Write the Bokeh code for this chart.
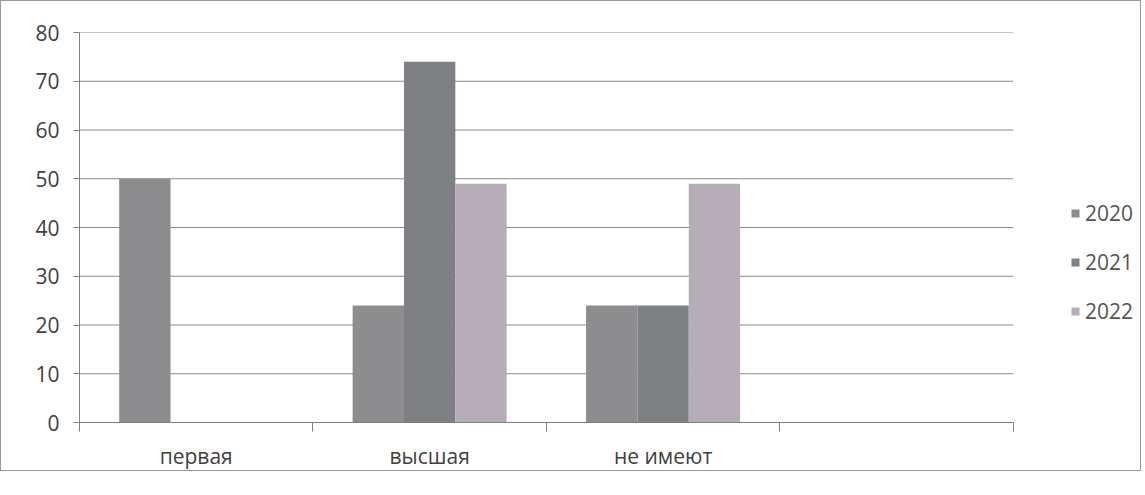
from bokeh.plotting import figure
from bokeh.models import Range1d, FixedTicker, Legend, LegendItem, ColumnDataSource
from bokeh.embed import file_html
from bokeh.resources import INLINE

categories = ["первая", "высшая", "не имеют", ""]
years = ["2020", "2021", "2022"]
v2020 = [50, 24, 24, 0]
v2021 = [0, 74, 24, 0]
v2022 = [0, 49, 49, 0]
y_ticks = [0, 10, 20, 30, 40, 50, 60, 70, 80]

series = [v2020, v2021, v2022]
colors = ["#8d8d90", "#7f8084", "#b6adb9"]
offsets = [-0.22, 0.0, 0.22]
bar_w = 0.22
n_cat = len(categories)

FONT = "Open Sans"
FS = "21px"
TXT = "#404040"

p = figure(width=1141, height=471, output_backend="svg", toolbar_location=None,
           x_range=Range1d(0, n_cat * 1.132), y_range=Range1d(0, 80),
           min_border_left=78, min_border_right=6, min_border_top=31, min_border_bottom=48)
p.styles = {"border": "1px solid #9a9a9a"}
p.outline_line_color = None
p.background_fill_color = "white"

# horizontal grid lines limited to the category area
p.segment(x0=[0] * len(y_ticks), x1=[n_cat] * len(y_ticks), y0=y_ticks, y1=y_ticks,
          line_color="#8a8a8a", line_width=1)

renderers = []
for vals, col, off in zip(series, colors, offsets):
    src = ColumnDataSource(dict(x=[i + 0.5 + off for i in range(n_cat)], top=vals))
    r = p.vbar(x="x", top="top", width=bar_w, bottom=0, source=src,
               fill_color=col, line_color=None)
    renderers.append(r)

legend = Legend(items=[LegendItem(label=yr, renderers=[r]) for yr, r in zip(years, renderers)],
                location=(991, 97), orientation="vertical",
                label_text_font=FONT, label_text_font_size=FS, label_text_color="#555555",
                glyph_width=10, glyph_height=10, label_height=24, spacing=21,
                padding=0, margin=0, border_line_color=None, background_fill_alpha=0,
                label_standoff=5)
p.add_layout(legend, "center")

xa = p.xaxis[0]
xa.bounds = (0, n_cat)
xa.ticker = FixedTicker(ticks=[i + 0.5 for i in range(n_cat)], minor_ticks=list(range(n_cat + 1)))
xa.major_label_overrides = {i + 0.5: c for i, c in enumerate(categories)}
xa.major_tick_out = 0
xa.major_tick_in = 0
xa.minor_tick_out = 9
xa.minor_tick_in = 0
xa.minor_tick_line_color = "#808080"
xa.axis_line_color = "#808080"
xa.major_label_standoff = 10
xa.major_label_text_font = FONT
xa.major_label_text_font_size = FS
xa.major_label_text_color = TXT

ya = p.yaxis[0]
ya.ticker = FixedTicker(ticks=y_ticks)
ya.major_tick_out = 6
ya.major_tick_in = 0
ya.minor_tick_line_color = None
ya.axis_line_color = "#808080"
ya.major_tick_line_color = "#808080"
ya.major_label_standoff = 14
ya.major_label_text_font = FONT
ya.major_label_text_font_size = FS
ya.major_label_text_color = TXT

p.xgrid.grid_line_color = None
p.ygrid.grid_line_color = None

open("out.html", "w").write(file_html(p, INLINE))
